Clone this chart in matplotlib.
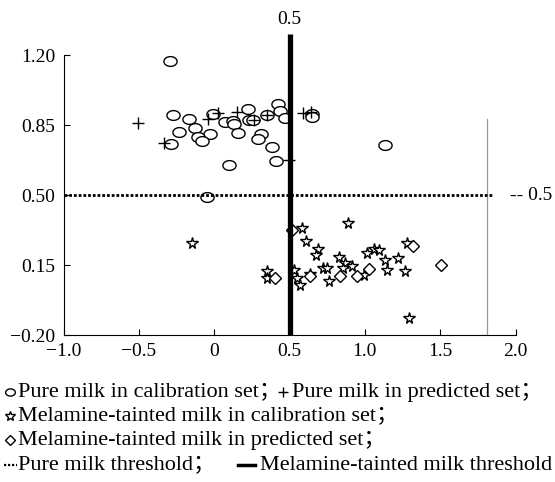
import numpy as np
import matplotlib
matplotlib.use("Agg")
import matplotlib.pyplot as plt
from matplotlib.path import Path
from matplotlib.lines import Line2D

plt.rcParams['font.family'] = ['Liberation Serif', 'Noto Sans CJK SC']
plt.rcParams['axes.unicode_minus'] = True

# ---- data ----
pure_cal_x = [-0.293, -0.271, -0.165, -0.006, -0.127, -0.232, -0.028, -0.106, -0.083, -0.289,
              0.072, 0.127, 0.133, 0.160, 0.226, 0.233, 0.255, 0.348, 0.425, 0.437,
              0.470, 0.310, 0.293, 0.386, 0.098, 0.408, -0.050, 0.647, 0.647, 1.133]
pure_cal_y = [1.170, 0.898, 0.878, 0.907, 0.835, 0.815, 0.807, 0.790, 0.768, 0.753,
              0.865, 0.870, 0.853, 0.810, 0.930, 0.877, 0.877, 0.900, 0.957, 0.920,
              0.887, 0.807, 0.778, 0.740, 0.650, 0.670, 0.490, 0.905, 0.890, 0.750]

pure_pred_x = [-0.508, -0.333, -0.039, 0.027, 0.149, 0.266, 0.348, 0.591, 0.642, 0.497]
pure_pred_y = [0.860, 0.762, 0.878, 0.910, 0.915, 0.877, 0.900, 0.910, 0.915, 0.675]

mel_cal_x = [-0.149, 0.348, 0.348, 0.585, 0.607, 0.687, 0.676, 0.890, 0.828, 0.868,
             0.857, 0.912, 0.724, 0.746, 0.636, 0.762, 0.530, 0.547, 0.569, 1.012,
             1.062, 1.095, 1.277, 1.133, 1.222, 1.145, 1.266, 0.994, 1.295]
mel_cal_y = [0.260, 0.118, 0.085, 0.335, 0.270, 0.230, 0.200, 0.360, 0.190, 0.160,
             0.137, 0.143, 0.135, 0.135, 0.107, 0.070, 0.123, 0.087, 0.052, 0.210,
             0.232, 0.224, 0.260, 0.173, 0.187, 0.127, 0.118, 0.098, -0.113]

mel_pred_x = [0.518, 0.403, 0.636, 0.835, 0.950, 1.027, 1.317, 1.503]
mel_pred_y = [0.327, 0.087, 0.093, 0.093, 0.093, 0.132, 0.243, 0.150]

pure_threshold = 0.5
mel_threshold = 0.5
x_ticks = [-1.0, -0.5, 0.0, 0.5, 1.0, 1.5, 2.0]
x_ticklabels = ['\u22121.0', '\u22120.5', '0', '0.5', '1.0', '1.5', '2.0']
y_ticks = [-0.20, 0.15, 0.50, 0.85, 1.20]
y_ticklabels = ['\u22120.20', '0.15', '0.50', '0.85', '1.20']
legend_texts = ['Pure milk in calibration set\uff1b', 'Pure milk in predicted set\uff1b',
                'Melamine-tainted milk in calibration set\uff1b',
                'Melamine-tainted milk in predicted set\uff1b',
                'Pure milk threshold\uff1b', 'Melamine-tainted milk threshold']

# ellipse marker (wider than tall)
t = np.linspace(0, 2 * np.pi, 40)
ellipse = Path(np.column_stack([1.35 * np.cos(t), np.sin(t)]), closed=True)

W, H = 555, 482
fig = plt.figure(figsize=(W / 100, H / 100), dpi=100)
ax = fig.add_axes([63.5 / W, (H - 335) / H, (515.5 - 63.5) / W, (335 - 31) / H])
ax.set_xlim(-1.0, 2.0)
ax.set_ylim(-0.2, 1.32)

mk = dict(linestyle='none', mfc='white', mec='black', mew=1.0)
ax.plot(pure_cal_x, pure_cal_y, marker=ellipse, ms=9.5, zorder=3, **mk)
ax.plot(pure_pred_x, pure_pred_y, marker='+', ms=9, linestyle='none', color='black', mew=1.0, zorder=4)
ax.plot(mel_cal_x, mel_cal_y, marker='*', ms=8.5, zorder=3, **mk)
ax.plot(mel_pred_x, mel_pred_y, marker='D', ms=6.5, zorder=3, **mk)

ax.plot([-1.0, 1.85], [pure_threshold, pure_threshold], color='black', lw=2.0,
        dashes=(1.0, 0.7), zorder=5)
ax.plot([mel_threshold, mel_threshold], [-0.2, 1.305], color='black', lw=3.8,
        zorder=6, clip_on=False, solid_capstyle='butt')
ax.plot([1.81, 1.81], [-0.2, 0.88], color='#9a9a9a', lw=0.9, zorder=1)

ax.text(mel_threshold, 1.375, '0.5', ha='center', va='center', fontsize=14, clip_on=False)
ax.text(1.963, pure_threshold, '-- 0.5', ha='left', va='center', fontsize=14, clip_on=False)

for s in ['top', 'right']:
    ax.spines[s].set_visible(False)
ax.spines['left'].set_bounds(-0.2, 1.2)
ax.set_xticks(x_ticks)
ax.set_xticklabels(x_ticklabels)
ax.set_yticks(y_ticks)
ax.set_yticklabels(y_ticklabels)
ax.tick_params(direction='in', length=4, labelsize=14, width=0.8)
ax.tick_params(axis='x', pad=6)
ax.tick_params(axis='y', pad=6)

# ---- legend drawn as text ----
def fx(px):
    return px / W

def fy(py):
    return (H - py) / H

fs = 16
rows = [392, 416, 440, 465]
fig.add_artist(Line2D([fx(10)], [fy(rows[0])], marker=ellipse, ms=7, **mk))
fig.text(fx(18), fy(rows[0]), legend_texts[0], fontsize=fs, va='center', ha='left')
fig.add_artist(Line2D([fx(283)], [fy(rows[0])], marker='+', ms=7, color='black', mew=1.0))
fig.text(fx(292), fy(rows[0]), legend_texts[1], fontsize=fs, va='center', ha='left')
fig.add_artist(Line2D([fx(10)], [fy(rows[1])], marker='*', ms=7, **mk))
fig.text(fx(18), fy(rows[1]), legend_texts[2], fontsize=fs, va='center', ha='left')
fig.add_artist(Line2D([fx(10)], [fy(rows[2])], marker='D', ms=5, **mk))
fig.text(fx(18), fy(rows[2]), legend_texts[3], fontsize=fs, va='center', ha='left')
fig.add_artist(Line2D([fx(4), fx(17)], [fy(rows[3]), fy(rows[3])], color='black', lw=1.6,
                      dashes=(1.0, 0.8)))
fig.text(fx(18), fy(rows[3]), legend_texts[4], fontsize=fs, va='center', ha='left')
fig.add_artist(Line2D([fx(238), fx(255)], [fy(rows[3]), fy(rows[3])], color='black', lw=2.5))
fig.text(fx(260), fy(rows[3]), legend_texts[5], fontsize=fs, va='center', ha='left')

fig.savefig('out.png', dpi=100)
